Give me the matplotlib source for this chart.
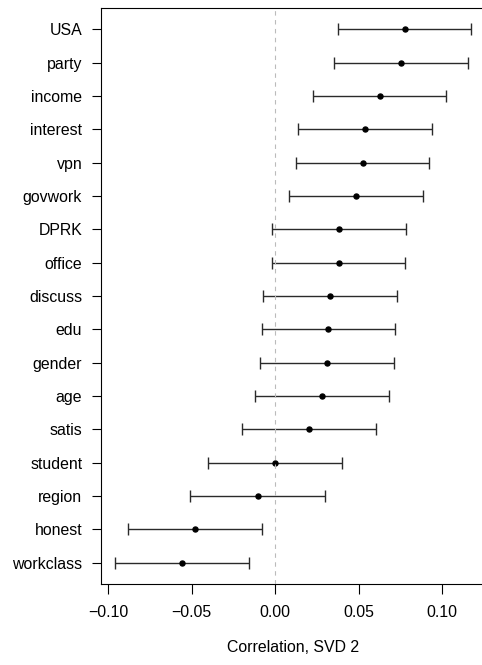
import numpy as np
import matplotlib
matplotlib.use("Agg")
import matplotlib.pyplot as plt

plt.rcParams['font.family'] = ['Liberation Sans', 'DejaVu Sans']

# variables, top to bottom
labels = ["USA", "party", "income", "interest", "vpn", "govwork", "DPRK", "office",
          "discuss", "edu", "gender", "age", "satis", "student", "region", "honest",
          "workclass"]
est = [0.0777, 0.0755, 0.0625, 0.0537, 0.0525, 0.0483, 0.0381, 0.0379,
       0.0325, 0.0317, 0.0309, 0.0279, 0.0202, 0.0000, -0.0105, -0.0483, -0.0557]
lower = [0.0377, 0.0353, 0.0226, 0.0134, 0.0122, 0.0080, -0.0018, -0.0022,
         -0.0074, -0.0082, -0.0092, -0.0120, -0.0200, -0.0405, -0.0509, -0.0884, -0.0958]
upper = [0.1174, 0.1154, 0.1024, 0.0938, 0.0922, 0.0884, 0.0782, 0.0778,
         0.0727, 0.0719, 0.0711, 0.0681, 0.0603, 0.0401, 0.0298, -0.0080, -0.0156]
xticks = [-0.10, -0.05, 0.00, 0.05, 0.10]

est = np.array(est)
lower = np.array(lower)
upper = np.array(upper)
n = len(labels)
y = np.arange(n, 0, -1)

fs = 11.4

fig = plt.figure(figsize=(4.82, 6.65), dpi=100)
ax = fig.add_axes([0.2095, 0.1218, 0.798, 0.8662])

ax.errorbar(est, y, xerr=[est - lower, upper - est], fmt='none',
            ecolor='#2a2a2a', elinewidth=1.0, capsize=4, capthick=1.0, zorder=2)
ax.plot(est, y, 'o', color='black', markersize=3.6, zorder=3)
ax.axvline(0, color='#bbbbbb', lw=0.8, ls=(0, (4, 4)), zorder=4)

# R-style 4% padding on both axes
xr = upper.max() - lower.min()
ax.set_xlim(lower.min() - 0.04 * xr, upper.max() + 0.04 * xr)
ax.set_ylim(1 - 0.04 * (n - 1), n + 0.04 * (n - 1))

ax.set_yticks(y)
ax.set_yticklabels(labels, fontsize=fs)
ax.set_xticks(xticks)
ax.set_xticklabels([f"{t:.2f}".replace("-", "\u2212") for t in xticks], fontsize=fs)
ax.tick_params(axis='y', length=6.5, width=0.8, pad=7)
ax.tick_params(axis='x', length=7.2, width=0.8, pad=8)
ax.set_xlabel("Correlation, SVD 2", fontsize=fs, labelpad=14)

for s in ax.spines.values():
    s.set_linewidth(0.8)

fig.savefig("out.png", dpi=100)
